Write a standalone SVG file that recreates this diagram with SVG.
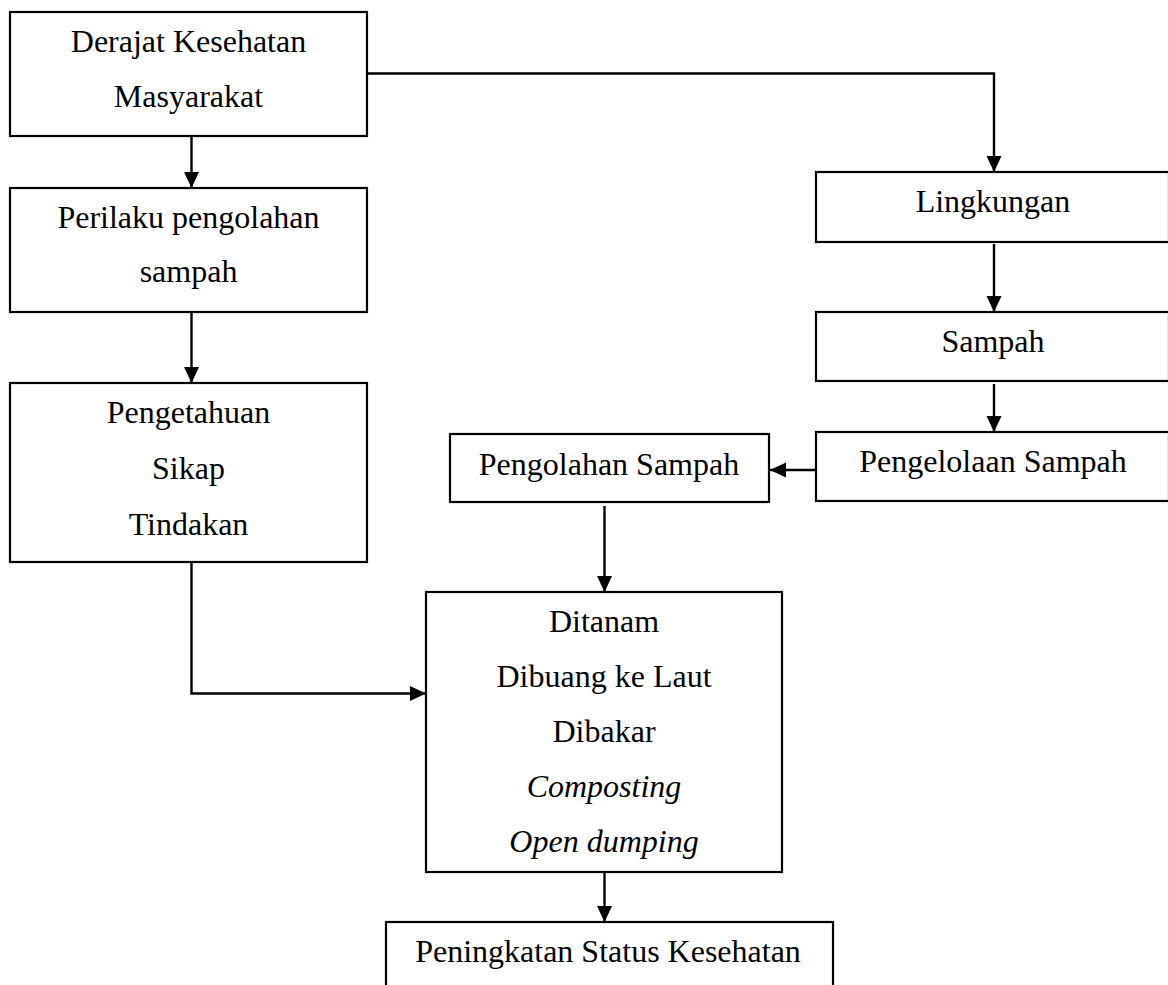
<svg xmlns="http://www.w3.org/2000/svg" width="1168" height="985" viewBox="0 0 1168 985">
<style>
.box{fill:#fff;stroke:#000;stroke-width:2.2}
.t{font-family:"Liberation Serif","Times New Roman",serif;font-size:32px;fill:#000;text-anchor:middle}
.i{font-style:italic}
.c{fill:none;stroke:#000;stroke-width:2.4}
</style>
<defs>
<marker id="ah" markerUnits="userSpaceOnUse" markerWidth="16" markerHeight="16" viewBox="0 0 16 16" refX="16" refY="8" orient="auto">
<path d="M0,0.5 L16,8 L0,15.5 Z" fill="#000"/>
</marker>
</defs>
<rect width="1168" height="985" fill="#fff"/>
<g id="connectors">
<path class="c" d="M191.5,136 V188" marker-end="url(#ah)"/>
<path class="c" d="M191.5,312 V383" marker-end="url(#ah)"/>
<path class="c" d="M191.5,562 V693.5 H426" marker-end="url(#ah)"/>
<path class="c" d="M367,73.5 H994 V172" marker-end="url(#ah)"/>
<path class="c" d="M994,244 V312" marker-end="url(#ah)"/>
<path class="c" d="M994,384 V432" marker-end="url(#ah)"/>
<path class="c" d="M816,470 H770" marker-end="url(#ah)"/>
<path class="c" d="M604.5,506 V592" marker-end="url(#ah)"/>
<path class="c" d="M604.5,872 V922" marker-end="url(#ah)"/>
</g>
<g id="derajat">
<rect class="box" x="10" y="12" width="357" height="124"/>
<text class="t" x="188.5" y="52">Derajat Kesehatan</text>
<text class="t" x="188.5" y="107">Masyarakat</text>
</g>
<g id="perilaku">
<rect class="box" x="10" y="188" width="357" height="124"/>
<text class="t" x="188.5" y="228">Perilaku pengolahan</text>
<text class="t" x="188.5" y="282">sampah</text>
</g>
<g id="pengetahuan">
<rect class="box" x="10" y="383" width="357" height="179"/>
<text class="t" x="188.5" y="423">Pengetahuan</text>
<text class="t" x="188.5" y="479">Sikap</text>
<text class="t" x="188.5" y="535">Tindakan</text>
</g>
<g id="lingkungan">
<rect class="box" x="816" y="172" width="353" height="70"/>
<text class="t" x="993" y="212">Lingkungan</text>
</g>
<g id="sampah">
<rect class="box" x="816" y="312" width="353" height="69"/>
<text class="t" x="993" y="352">Sampah</text>
</g>
<g id="pengelolaan">
<rect class="box" x="816" y="432" width="353" height="69"/>
<text class="t" x="993" y="472">Pengelolaan Sampah</text>
</g>
<g id="pengolahan">
<rect class="box" x="450" y="434" width="319" height="68"/>
<text class="t" x="609" y="475">Pengolahan Sampah</text>
</g>
<g id="ditanam">
<rect class="box" x="426" y="592" width="356" height="280"/>
<text class="t" x="604" y="632">Ditanam</text>
<text class="t" x="604" y="687">Dibuang ke Laut</text>
<text class="t" x="604" y="742">Dibakar</text>
<text class="t i" x="604" y="797">Composting</text>
<text class="t i" x="604" y="852">Open dumping</text>
</g>
<g id="peningkatan">
<rect class="box" x="386" y="922" width="447" height="80"/>
<text class="t" x="608" y="962">Peningkatan Status Kesehatan</text>
</g>
</svg>
